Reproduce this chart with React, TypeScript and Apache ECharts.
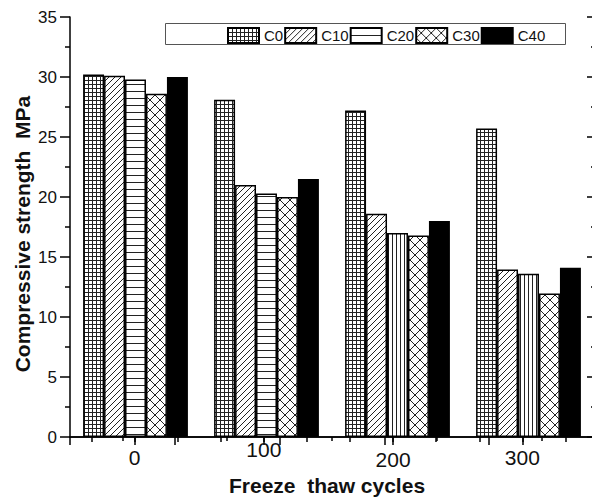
import React, { useEffect, useRef } from "react";
import * as echarts from "echarts";

const categories = ["0", "100", "200", "300"];
const bottomTickSlots = ["", "0", "", "", "100", "", "", "200", "", "", "300", ""];
const seriesNames = ["C0", "C10", "C20", "C30", "C40"];
const c0 = [30.2, 28.1, 27.2, 25.7];
const c10 = [30.1, 21.0, 18.6, 13.95];
const c20 = [29.8, 20.3, 17.0, 13.6];
const c30 = [28.6, 20.0, 16.8, 11.95];
const c40 = [30.0, 21.5, 18.0, 14.1];
// which C20 bars use vertical instead of horizontal hatch
const c20Vertical = [false, false, true, true];

const FONT = "Arial";

function makePattern(w: number, h: number, draw: (ctx: CanvasRenderingContext2D) => void) {
  const c = document.createElement("canvas");
  c.width = w;
  c.height = h;
  const ctx = c.getContext("2d") as CanvasRenderingContext2D;
  ctx.fillStyle = "#ffffff";
  ctx.fillRect(0, 0, w, h);
  ctx.strokeStyle = "#222";
  ctx.lineWidth = 1;
  draw(ctx);
  return { image: c, repeat: "repeat" };
}

export default function App() {
  const ref = useRef<HTMLDivElement>(null);
  useEffect(() => {
    if (!ref.current) return;
    const chart = echarts.init(ref.current, null, { renderer: "svg" });

    const gridPat = makePattern(4, 4, (ctx) => {
      ctx.beginPath();
      ctx.moveTo(0.5, 0);
      ctx.lineTo(0.5, 4);
      ctx.moveTo(0, 0.5);
      ctx.lineTo(4, 0.5);
      ctx.stroke();
    });
    const slashPat = makePattern(6, 6, (ctx) => {
      ctx.beginPath();
      ctx.moveTo(0, 6);
      ctx.lineTo(6, 0);
      ctx.moveTo(-1, 1);
      ctx.lineTo(1, -1);
      ctx.moveTo(5, 7);
      ctx.lineTo(7, 5);
      ctx.stroke();
    });
    const horizPat = makePattern(4, 7, (ctx) => {
      ctx.beginPath();
      ctx.moveTo(0, 0.5);
      ctx.lineTo(4, 0.5);
      ctx.stroke();
    });
    const vertPat = makePattern(4, 4, (ctx) => {
      ctx.beginPath();
      ctx.moveTo(0.5, 0);
      ctx.lineTo(0.5, 4);
      ctx.stroke();
    });
    const crossPat = makePattern(10, 10, (ctx) => {
      ctx.beginPath();
      ctx.moveTo(0, 0);
      ctx.lineTo(10, 10);
      ctx.moveTo(0, 10);
      ctx.lineTo(10, 0);
      ctx.stroke();
    });

    const axisLineStyle = { color: "#000", width: 1.5 };
    const tickLine = { color: "#000", width: 1.5 };
    const border = { borderColor: "#000", borderWidth: 1.5 };

    const barBase = {
      type: "bar",
      xAxisIndex: 0,
      yAxisIndex: 0,
      barGap: "0%",
      barCategoryGap: "20%",
    };

    chart.setOption({
      animation: false,
      backgroundColor: "#ffffff",
      grid: [
        { left: 70, right: 6, top: 17, bottom: 63 },
        { left: 70, right: 13, top: 17, bottom: 63 },
      ],
      legend: {
        left: 227,
        top: 27,
        padding: 0,
        itemWidth: 31,
        itemHeight: 15,
        itemGap: 1,
        icon: "rect",
        data: seriesNames,
        textStyle: { fontSize: 15, color: "#111", fontFamily: FONT },
      },
      graphic: [
        {
          type: "rect",
          shape: { x: 165.5, y: 23.5, width: 400, height: 21 },
          style: { fill: "none", stroke: "#555", lineWidth: 1 },
          z: 0,
        },
        {
          type: "text",
          x: 327,
          y: 485,
          style: {
            text: "Freeze  thaw cycles",
            fontSize: 21,
            fontWeight: "bold",
            fontFamily: FONT,
            fill: "#111",
            align: "center",
            verticalAlign: "middle",
          },
        },
        {
          type: "text",
          x: 22,
          y: 234,
          rotation: Math.PI / 2,
          style: {
            text: "Compressive strength  MPa",
            fontSize: 21,
            fontWeight: "bold",
            fontFamily: FONT,
            fill: "#111",
            align: "center",
            verticalAlign: "middle",
          },
        },
      ],
      xAxis: [
        {
          type: "category",
          gridIndex: 0,
          data: categories,
          position: "bottom",
          axisLine: { show: true, lineStyle: axisLineStyle },
          axisTick: { show: false },
          axisLabel: { show: false },
          splitLine: { show: false },
        },
        {
          type: "value",
          gridIndex: 0,
          position: "top",
          min: 0,
          max: 5,
          interval: 1,
          axisLine: { show: true, lineStyle: axisLineStyle },
          axisTick: { show: true, inside: true, length: 8, lineStyle: tickLine },
          minorTick: { show: true, splitNumber: 2, length: 4, lineStyle: tickLine },
          axisLabel: { show: false },
          splitLine: { show: false },
        },
        {
          type: "category",
          gridIndex: 1,
          position: "bottom",
          offset: 0,
          data: bottomTickSlots,
          axisLine: { show: false },
          axisTick: { show: true, interval: 0, alignWithLabel: true, length: 5, lineStyle: tickLine },
          axisLabel: { show: false, interval: 0 },
          splitLine: { show: false },
        },
        {
          type: "category",
          gridIndex: 1,
          position: "bottom",
          offset: 0,
          data: categories,
          axisLine: { show: false },
          axisTick: { show: true, interval: 0, alignWithLabel: true, length: 8, lineStyle: tickLine },
          axisLabel: {
            show: true,
            interval: 0,
            margin: 2,
            formatter: (v: string) => `{l${categories.indexOf(v)}|${v}}`,
            rich: {
              l0: { fontSize: 21, fontFamily: FONT, color: "#111", padding: [8, 0, 0, 0] },
              l1: { fontSize: 21, fontFamily: FONT, color: "#111", padding: [0, 0, 0, 0] },
              l2: { fontSize: 21, fontFamily: FONT, color: "#111", padding: [10, 0, 0, 0] },
              l3: { fontSize: 21, fontFamily: FONT, color: "#111", padding: [8, 0, 0, 0] },
            },
          },
          splitLine: { show: false },
        },
      ],
      yAxis: [
        {
          type: "value",
          gridIndex: 0,
          position: "left",
          min: 0,
          max: 35,
          interval: 5,
          axisLine: { show: true, lineStyle: axisLineStyle },
          axisTick: { show: true, inside: false, length: 10, lineStyle: tickLine },
          minorTick: { show: true, splitNumber: 2, length: 5, lineStyle: tickLine },
          axisLabel: { fontSize: 17, color: "#111", fontFamily: FONT, margin: 13 },
          splitLine: { show: false },
        },
        {
          type: "value",
          gridIndex: 0,
          position: "right",
          min: 0,
          max: 35,
          interval: 5,
          axisLine: { show: true, lineStyle: axisLineStyle },
          axisTick: { show: true, inside: true, length: 7, lineStyle: tickLine },
          minorTick: { show: true, splitNumber: 2, length: 3, lineStyle: tickLine },
          axisLabel: { show: false },
          splitLine: { show: false },
        },
        { type: "value", gridIndex: 1, show: false },
      ],
      series: [
        { ...barBase, name: "C0", data: c0, itemStyle: { color: gridPat, ...border } },
        { ...barBase, name: "C10", data: c10, itemStyle: { color: slashPat, ...border } },
        {
          ...barBase,
          name: "C20",
          itemStyle: { color: horizPat, ...border },
          data: c20.map((v, i) =>
            c20Vertical[i] ? { value: v, itemStyle: { color: vertPat, ...border } } : v
          ),
        },
        { ...barBase, name: "C30", data: c30, itemStyle: { color: crossPat, ...border } },
        { ...barBase, name: "C40", data: c40, itemStyle: { color: "#000", ...border } },
      ],
    });
    return () => chart.dispose();
  }, []);

  return (
    <div
      style={{
        position: "fixed",
        left: 0,
        top: 0,
        width: 592,
        height: 500,
        overflow: "hidden",
        background: "#fff",
      }}
    >
      <div ref={ref} style={{ width: 600, height: 500 }} />
    </div>
  );
}
